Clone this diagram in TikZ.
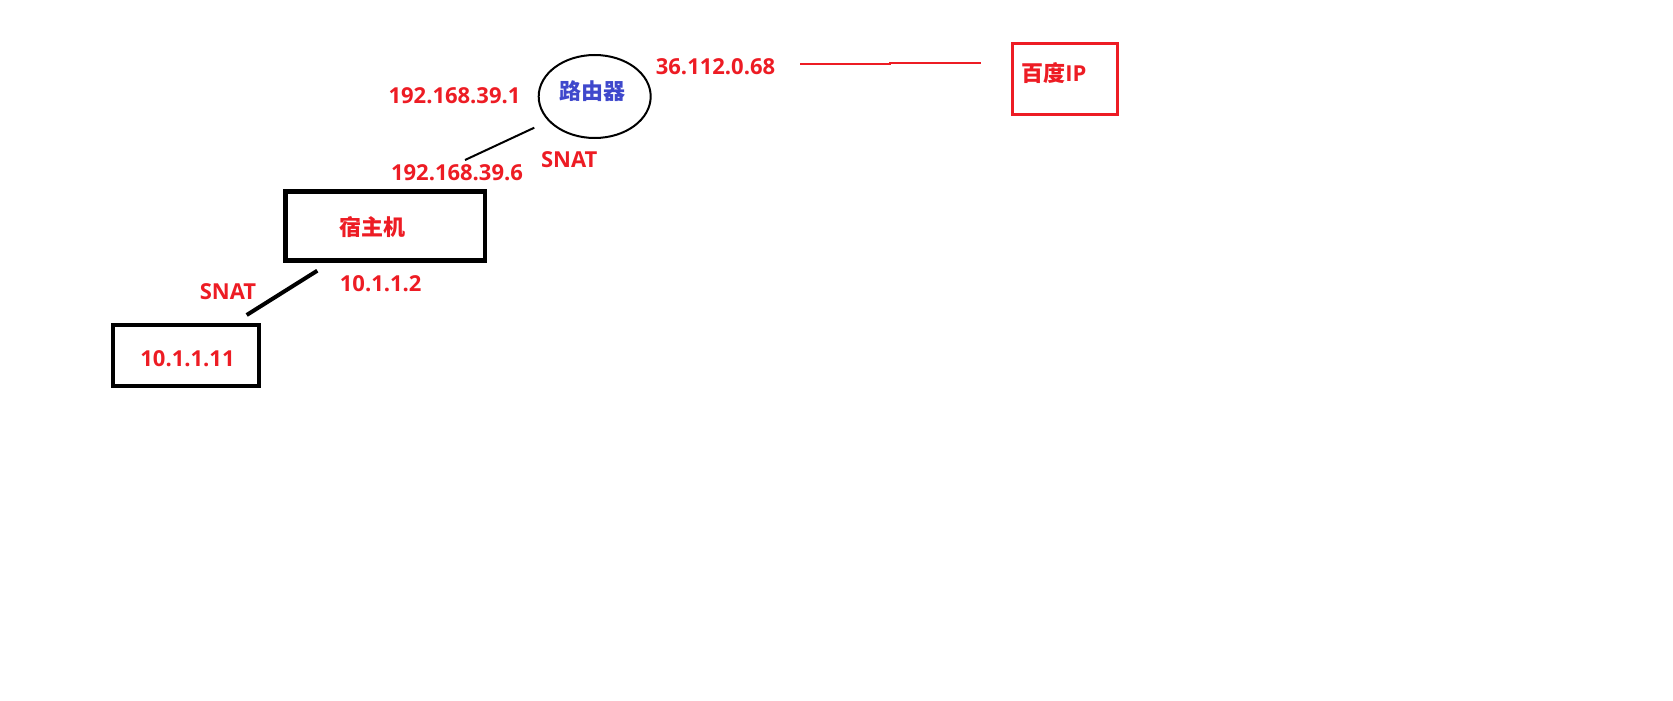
\documentclass[tikz,border=0pt]{standalone}
\usepackage{fontspec}
\setmainfont{Open Sans}
\newfontfamily\cjk{Noto Sans CJK SC}
\usetikzlibrary{shapes.geometric}
\definecolor{pred}{HTML}{ED1C24}
\definecolor{pblue}{HTML}{3F48CC}
\tikzset{
  lbl/.style={text=pred,font=\fontsize{22}{26}\selectfont\bfseries,inner sep=0pt},
  blackbox/.style={draw=black,line width=4.3pt,rectangle,inner sep=0pt},
}
\begin{document}
\begin{tikzpicture}[x=1pt,y=-1pt]
\useasboundingbox (0,0) rectangle (1673,701);
% router
\node[ellipse,draw=black,line width=2pt,minimum width=112pt,minimum height=83pt,inner sep=0pt,
      label={[text=pblue,font=\fontsize{22}{26}\selectfont\bfseries\cjk,xshift=-2.4pt,yshift=5.5pt]center:路由器}] (router) at (594.7,96.5) {};
% host
\node[blackbox,minimum width=199.5pt,minimum height=69pt,
      label={[lbl,font=\fontsize{22}{26}\selectfont\bfseries\cjk,xshift=-13.3pt,yshift=-0.7pt]center:宿主机}] (host) at (385.3,226) {};
% container
\node[blackbox,minimum width=146pt,minimum height=61pt] (ctr) at (185.7,355.8) {};
\node[lbl] (ctrip) at (187.5,358.3) {10.1.1.11};
% baidu
\node[draw=pred,line width=3pt,rectangle,inner sep=0pt,minimum width=105pt,minimum height=70.5pt,
      label={[lbl,xshift=-11pt,yshift=5.7pt]center:{\cjk 百度}IP}] (baidu) at (1065,79) {};
% labels
\node[lbl] (r1) at (454.5,95.7) {192.168.39.1};
\node[lbl] (r6) at (457,172.7) {192.168.39.6};
\node[lbl] (snat1) at (569.2,159.3) {SNAT};
\node[lbl] (pub) at (715.5,66.7) {36.112.0.68};
\node[lbl] (h2) at (380.7,284) {10.1.1.2};
\node[lbl] (snat2) at (228,291.7) {SNAT};
% connectors
\coordinate (a1) at (534.3,127.7);
\coordinate (a2) at (465,160);
\draw[line width=2pt] (a1) -- (a2);
\coordinate (b1) at (317.3,270.7);
\coordinate (b2) at (246.7,315);
\draw[line width=4pt] (b1) -- (b2);
\coordinate (c1) at (800,64);
\coordinate (c2) at (890,64);
\coordinate (c3) at (890,63);
\coordinate (c4) at (981,63);
\draw[pred,line width=2.5pt] (c1) -- (c2) -- (c3) -- (c4);
\end{tikzpicture}
\end{document}
